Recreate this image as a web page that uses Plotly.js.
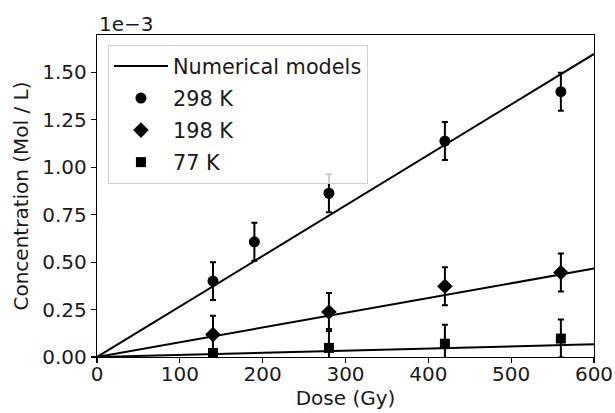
<!DOCTYPE html>
<html>
<head>
<meta charset="utf-8">
<script src="https://cdn.plot.ly/plotly-3.0.1.min.js"></script>
<style>html,body{margin:0;padding:0;background:#fff}#chart{width:615px;height:413px}</style>
</head>
<body>
<div id="chart"></div>
<script>
// Dose (Gy)
const dose298 = [140, 190, 280, 420, 560];
const dose198 = [140, 280, 420, 560];
const dose77 = [140, 280, 420, 560];
// Concentration in units of 1e-3 Mol / L
const conc298 = [0.40, 0.607, 0.863, 1.138, 1.398];
const conc198 = [0.118, 0.237, 0.373, 0.445];
const conc77 = [0.021, 0.048, 0.070, 0.097];
const err298 = [0.10, 0.10, 0.10, 0.10, 0.10];
const err198 = [0.10, 0.10, 0.10, 0.10];
const err77 = [0.10, 0.10, 0.10, 0.10];
// Numerical model lines (endpoints)
const modelDose = [0, 600];
const model298 = [0, 1.597];
const model198 = [0, 0.466];
const model77 = [0, 0.067];

const lineStyle = {color: '#000', width: 2};
const errStyle = (arr) => ({type: 'data', array: arr, visible: true, color: '#000', thickness: 2, width: 3});

const traces = [
  {x: modelDose, y: model298, mode: 'lines', line: lineStyle, name: 'Numerical models', legendgroup: 'a', showlegend: true},
  {x: modelDose, y: model198, mode: 'lines', line: lineStyle, name: 'm198', legendgroup: 'a', showlegend: false},
  {x: modelDose, y: model77, mode: 'lines', line: lineStyle, name: 'm77', legendgroup: 'a', showlegend: false},
  {x: dose298, y: conc298, mode: 'markers', name: '298 K', legendgroup: 'b', marker: {symbol: 'circle', size: 11, color: '#000'}, error_y: errStyle(err298)},
  {x: dose198, y: conc198, mode: 'markers', name: '198 K', legendgroup: 'c', marker: {symbol: 'diamond', size: 12, color: '#000'}, error_y: errStyle(err198)},
  {x: dose77, y: conc77, mode: 'markers', name: '77 K', legendgroup: 'd', marker: {symbol: 'square', size: 10, color: '#000'}, error_y: errStyle(err77)}
];

const font = {family: 'DejaVu Sans, sans-serif', size: 20, color: '#1a1a1a'};
const legendFont = {family: 'DejaVu Sans, sans-serif', size: 20.8, color: '#1a1a1a'};

const layout = {
  width: 615, height: 413,
  margin: {l: 97, r: 21, t: 35, b: 56, pad: 0},
  paper_bgcolor: '#fff', plot_bgcolor: '#fff',
  font: font,
  showlegend: true,
  legend: {
    x: 0.022, y: 0.969, xanchor: 'left', yanchor: 'top',
    bgcolor: 'rgba(255,255,255,0.8)', bordercolor: '#d0d0d0', borderwidth: 1,
    font: legendFont,
    traceorder: 'grouped', tracegroupgap: 2, itemwidth: 54
  },
  xaxis: {
    range: [0, 600], dtick: 100, tick0: 0,
    showgrid: false, zeroline: false,
    showline: true, linecolor: '#000', linewidth: 1.2, mirror: true,
    ticks: 'outside', ticklen: 5, tickwidth: 1.2, tickcolor: '#000',
    tickfont: font, ticklabelstandoff: -6,
    title: {text: 'Dose (Gy)', font: font, standoff: 0}
  },
  yaxis: {
    range: [0, 1.697], dtick: 0.25, tick0: 0, tickformat: '.2f',
    showgrid: false, zeroline: false,
    showline: true, linecolor: '#000', linewidth: 1.2, mirror: true,
    ticks: 'outside', ticklen: 5, tickwidth: 1.2, tickcolor: '#000',
    tickfont: font,
    title: {text: 'Concentration (Mol / L)', font: font, standoff: 8}
  },
  annotations: [{
    text: '1e\u22123', xref: 'paper', yref: 'paper', x: 0, y: 1, xanchor: 'left', yanchor: 'bottom',
    showarrow: false, font: font, yshift: -3
  }]
};

Plotly.newPlot('chart', traces, layout, {displayModeBar: false, staticPlot: true});
</script>
</body>
</html>
